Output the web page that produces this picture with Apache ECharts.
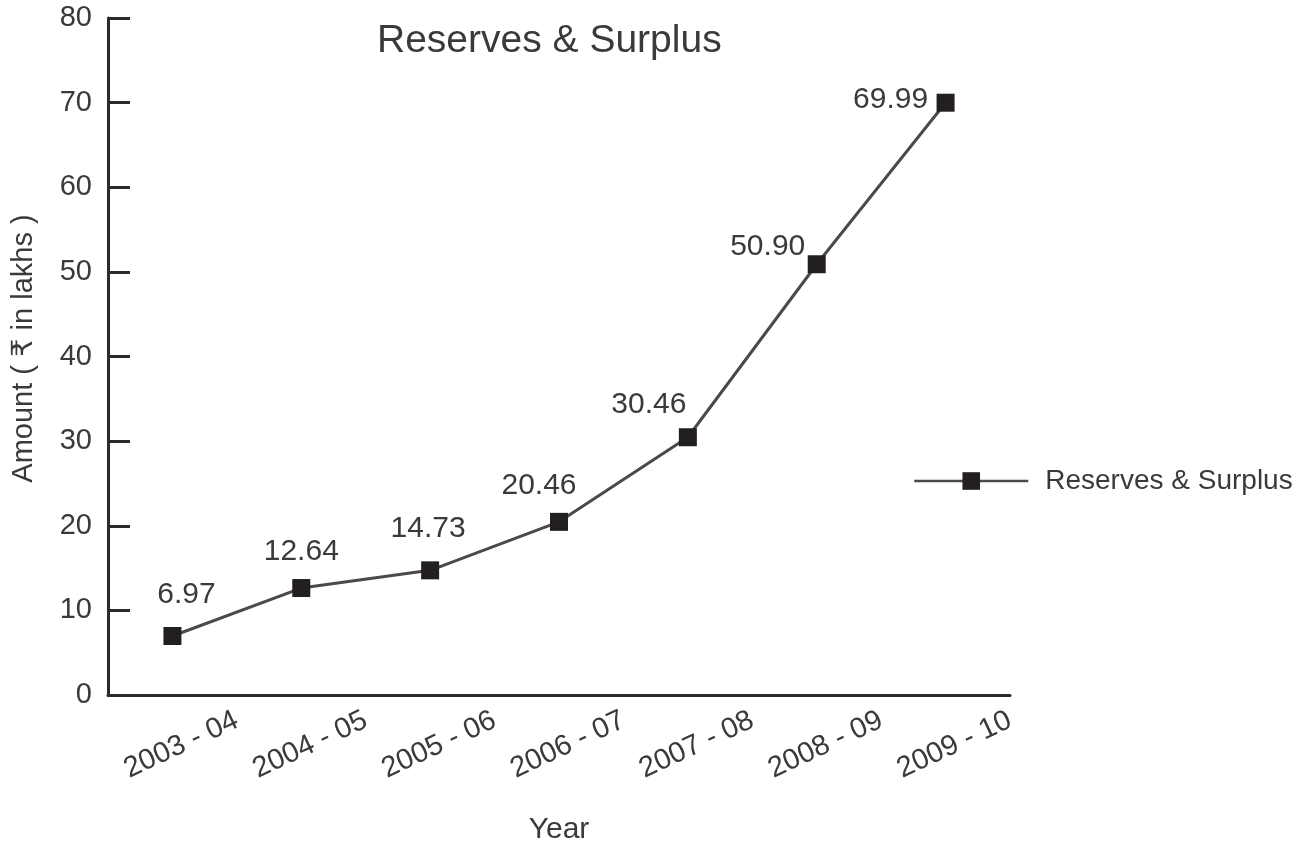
<!DOCTYPE html>
<html>
<head>
<meta charset="utf-8">
<title>Reserves & Surplus</title>
<script src="https://cdn.jsdelivr.net/npm/echarts@6/dist/echarts.min.js"></script>
<style>
  html, body { margin: 0; padding: 0; background: #fff; }
  #chart { width: 1307px; height: 846px; }
</style>
</head>
<body>
<div id="chart"></div>
<script>
  // data
  const years = ['2003 - 04', '2004 - 05', '2005 - 06', '2006 - 07', '2007 - 08', '2008 - 09', '2009 - 10']
  const amounts = [6.97, 12.64, 14.73, 20.46, 30.46, 50.90, 69.99]
  const amountLabels = ['6.97', '12.64', '14.73', '20.46', '30.46', '50.90', '69.99']
  const yTicks = [0, 10, 20, 30, 40, 50, 60, 70, 80]

  // where each value label sits relative to its point
  const labelShift = [[14, -41], [0, -36], [-2, -42], [-20, -36], [-39, -32], [-49, -18], [-55, -3]]

  const font = 'Liberation Sans, Arial, DejaVu Sans, sans-serif'
  const ink = '#3a3a3a'

  var myChart = echarts.init(document.getElementById('chart'))
  let chartOption = {
    backgroundColor: '#fff',
    animation: false,
    title: {
      text: 'Reserves & Surplus',
      left: 372,
      top: 17,
      textStyle: { color: ink, fontSize: 39, fontWeight: 'normal', fontFamily: font }
    },
    legend: {
      left: 908,
      top: 462,
      itemWidth: 114,
      itemHeight: 22,
      lineStyle: { width: 2.5, color: '#4a4a4a' },
      textStyle: { color: ink, fontSize: 28, fontFamily: font, padding: [0, 0, 0, 12] },
      data: ['Reserves & Surplus']
    },
    grid: { left: 108, right: 297, top: 18, bottom: 151, outerBoundsMode: 'none' },
    xAxis: [
      {
        type: 'category',
        data: years,
        boundaryGap: true,
        axisLine: { lineStyle: { color: '#2b2b2b', width: 3 } },
        axisTick: { inside: true, length: 17, lineStyle: { color: '#2b2b2b', width: 3 } },
        axisLabel: { show: false },
        splitLine: { show: false }
      },
      {
        // label-only axis so the year names sit at the tick marks
        type: 'value',
        position: 'bottom',
        min: 0,
        max: years.length,
        interval: 1,
        axisLine: { show: false },
        axisTick: { show: false },
        splitLine: { show: false },
        axisLabel: {
          rotate: 25,
          margin: 24,
          color: ink,
          fontSize: 29,
          fontFamily: font,
          formatter: v => (v >= 1 ? years[v - 1] : '')
        },
        name: 'Year',
        nameLocation: 'middle',
        nameGap: 120,
        nameTextStyle: { color: ink, fontSize: 30, fontFamily: font }
      }
    ],
    yAxis: {
      type: 'value',
      min: yTicks[0],
      max: yTicks[yTicks.length - 1],
      interval: 10,
      name: 'Amount ( ₹ in lakhs )',
      nameLocation: 'middle',
      nameGap: 70,
      nameTextStyle: { color: ink, fontSize: 29, fontFamily: font, padding: [0, 0, 0, 16] },
      axisLine: { show: true, lineStyle: { color: '#2b2b2b', width: 3 } },
      axisTick: { show: true, inside: true, length: 22, lineStyle: { color: '#2b2b2b', width: 3 } },
      axisLabel: { color: ink, fontSize: 29, fontFamily: font, margin: 16 },
      splitLine: { show: false }
    },
    series: [
      {
        name: 'Reserves & Surplus',
        type: 'line',
        xAxisIndex: 0,
        symbol: 'rect',
        symbolSize: 18,
        lineStyle: { color: '#4a4a4a', width: 3 },
        itemStyle: { color: '#231f20', borderWidth: 0 },
        label: {
          show: true,
          position: 'inside',
          color: ink,
          fontSize: 30,
          fontFamily: font
        },
        data: amounts.map((v, i) => ({
          value: v,
          label: { offset: labelShift[i], formatter: amountLabels[i] }
        }))
      }
    ]
  }
  myChart.setOption(chartOption)
</script>
</body>
</html>
